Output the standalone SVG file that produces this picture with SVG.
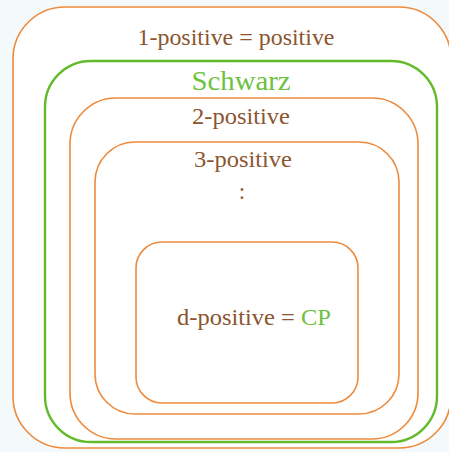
<svg xmlns="http://www.w3.org/2000/svg" width="449" height="452" viewBox="0 0 449 452">
<style>
.o{fill:none;stroke:#ee8a3c;stroke-width:1.6}
.g{fill:none;stroke:#62bb2a;stroke-width:2.4}
.t{font-family:"Liberation Serif","DejaVu Serif",serif;fill:#8c5530;text-anchor:middle}
.gt{fill:#6cc23e}
</style>
<rect width="449" height="452" fill="#f4f9fc"/>
<g id="n1">
<rect x="13" y="7" width="438" height="441" rx="52" class="o" style="fill:#ffffff"/>
<text class="t" x="236" y="45" font-size="23" textLength="197" lengthAdjust="spacingAndGlyphs">1-positive = positive</text>
</g>
<g id="schwarz">
<rect x="45" y="61" width="392" height="381" rx="46" class="g"/>
<text class="t gt" x="241" y="90" font-size="27" textLength="99" lengthAdjust="spacingAndGlyphs">Schwarz</text>
</g>
<g id="n2">
<rect x="70" y="98" width="348" height="341" rx="46" class="o"/>
<text class="t" x="241" y="124" font-size="23" textLength="98" lengthAdjust="spacingAndGlyphs">2-positive</text>
</g>
<g id="n3">
<rect x="95" y="142" width="304" height="272" rx="40" class="o"/>
<text class="t" x="243" y="167" font-size="23" textLength="98" lengthAdjust="spacingAndGlyphs">3-positive</text>
<text class="t" x="242" y="199" font-size="23">:</text>
</g>
<g id="nd">
<rect x="136" y="242" width="222" height="161" rx="26" class="o"/>
<text class="t" x="254" y="325" font-size="23" textLength="154" lengthAdjust="spacingAndGlyphs">d-positive = <tspan class="gt">CP</tspan></text>
</g>
<g id="connectors"/>
</svg>
